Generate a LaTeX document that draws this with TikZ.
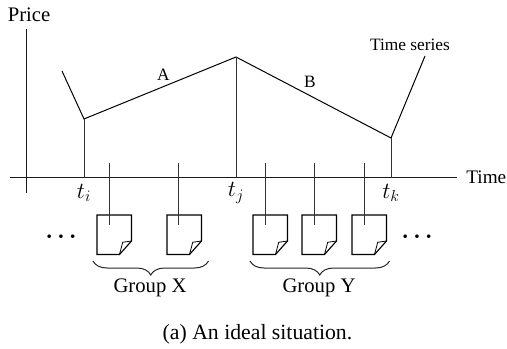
\documentclass[tikz,border=0pt]{standalone}
\usepackage{fontspec}
\setmainfont{Liberation Serif}
\usetikzlibrary{decorations.pathreplacing}
\tikzset{
  axisline/.style={draw=black!90,line width=0.75pt},
  curveline/.style={draw=black,line width=0.75pt,line join=miter},
  stem/.style={draw=black!80,line width=0.75pt},
  docbox/.style={draw=black,line width=0.85pt,line join=miter},
  bracket/.style={draw=black!85,line width=0.75pt,decorate,decoration={brace,amplitude=10.5pt}},
  lbl/.style={inner sep=0pt,font=\fontsize{15.5}{17}\selectfont},
  timelbl/.style={inner sep=0pt,font=\fontsize{14.4}{16}\selectfont},
  caplbl/.style={inner sep=0pt,font=\fontsize{16.3}{18}\selectfont},
  smalllbl/.style={inner sep=0pt,font=\fontsize{13}{15}\selectfont},
  mathlbl/.style={inner sep=0pt,font=\fontsize{17}{19}\selectfont},
  dotslbl/.style={inner sep=0pt,font=\fontsize{16.7}{18}\selectfont\boldmath}
}
\newcommand{\docicon}[2]{%
  \coordinate (#1a) at (#2,215);
  \coordinate (#1b) at (#2+34.5,215);
  \coordinate (#1c) at (#2+34.5,241);
  \coordinate (#1d) at (#2+22.5,254.5);
  \coordinate (#1e) at (#2,254.5);
  \coordinate (#1f) at (#2+25.7,242.3);
  \draw[docbox] (#1a) -- (#1b) -- (#1c) -- (#1d) -- (#1e) -- cycle;
  \draw[docbox,line width=0.6pt] (#1c) -- (#1f) -- (#1d);
}
\begin{document}
\begin{tikzpicture}[x=0.75pt,y=-0.75pt]
\useasboundingbox (0,0) rectangle (507,349);
% axes
\coordinate (yt) at (26.5,29); \coordinate (yb) at (26.5,193);
\coordinate (xl) at (10,178); \coordinate (xr) at (457,178);
\draw[axisline] (yt) -- (yb);
\draw[axisline] (xl) -- (xr);
% series
\coordinate (s0) at (62,71); \coordinate (s1) at (84,119);
\coordinate (s2) at (236,57); \coordinate (s3) at (391,138); \coordinate (s4) at (425,56);
\draw[curveline] (s0) -- (s1) -- (s2) -- (s3) -- (s4);
\coordinate (b1) at (84,178); \coordinate (b2) at (236,178); \coordinate (b3) at (391,178);
\draw[stem] (s1) -- (b1);
\draw[stem] (s2) -- (b2);
\draw[stem] (s3) -- (b3);
% documents
\docicon{da}{97}
\docicon{db}{167}
\docicon{dc}{253}
\docicon{dd}{302}
\docicon{de}{352}
% stems to documents
\foreach \n/\x in {p1/109.5,p2/178,p3/265.5,p4/314,p5/364}{
  \coordinate (\n t) at (\x,163);
  \coordinate (\n b) at (\x,225);
  \draw[stem] (\n t) -- (\n b);
}
% braces
\coordinate (bxl) at (93,261); \coordinate (bxr) at (208.5,261);
\coordinate (byl) at (250,261); \coordinate (byr) at (389.5,261);
\draw[bracket] (bxr) -- (bxl);
\draw[bracket] (byr) -- (byl);
% labels
\node[lbl] (price) at (29,15) {Price};
\node[timelbl,anchor=east] (time) at (506.5,177) {Time};
\node[smalllbl] (ts) at (410,45) {Time series};
\node[smalllbl] (a) at (163.5,75) {A};
\node[smalllbl] (bb) at (310,82) {B};
\node[mathlbl] (ti) at (84,193) {$t_i$};
\node[mathlbl] (tj) at (236,193) {$t_j$};
\node[mathlbl] (tk) at (391,193) {$t_k$};
\node[dotslbl] (dl) at (61,237.5) {$\cdots$};
\node[dotslbl] (dr) at (417,237.5) {$\cdots$};
\node[lbl] (gx) at (150,288) {Group X};
\node[lbl] (gy) at (319,288) {Group Y};
\node[caplbl] (cap) at (257.5,334) {(a) An ideal situation.};
\end{tikzpicture}
\end{document}
